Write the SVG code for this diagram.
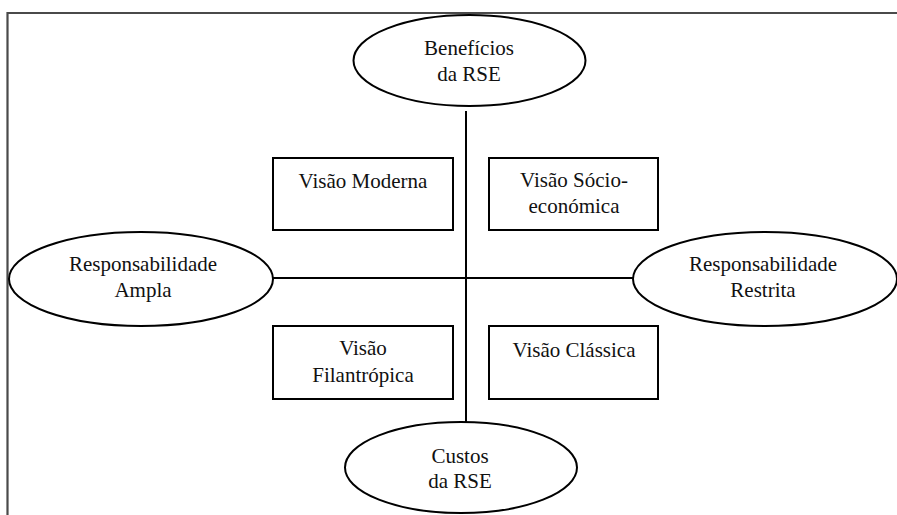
<svg xmlns="http://www.w3.org/2000/svg" width="897" height="515" viewBox="0 0 897 515">
  <style>
    .frame { fill: none; stroke: #4a4a4a; stroke-width: 2.2; }
    .node { fill: #ffffff; stroke: #000000; stroke-width: 2; }
    .axis { fill: none; stroke: #000000; stroke-width: 2; }
    .lbl { font-family: 'Liberation Serif', 'Times New Roman', 'DejaVu Serif', serif; font-size: 21px; fill: #111111; text-anchor: middle; }
  </style>
  <rect width="897" height="515" fill="#ffffff"/>
  <!-- outer frame, open to the right and bottom -->
  <path class="frame" d="M7.5,520 V13 H900"/>

  <g id="connectors">
    <line class="axis" x1="466" y1="111" x2="466" y2="422"/>
    <line class="axis" x1="273" y1="278" x2="634" y2="278"/>
  </g>

  <g id="beneficios">
    <ellipse class="node" cx="469.5" cy="60.5" rx="116" ry="45.5"/>
    <text class="lbl" x="469" y="55">Benefícios</text>
    <text class="lbl" x="469" y="81">da RSE</text>
  </g>

  <g id="custos">
    <ellipse class="node" cx="461" cy="467.5" rx="116" ry="45.5"/>
    <text class="lbl" x="460" y="463">Custos</text>
    <text class="lbl" x="460" y="488">da RSE</text>
  </g>

  <g id="ampla">
    <ellipse class="node" cx="141" cy="279" rx="132" ry="47"/>
    <text class="lbl" x="143" y="271">Responsabilidade</text>
    <text class="lbl" x="143" y="297">Ampla</text>
  </g>

  <g id="restrita">
    <ellipse class="node" cx="765" cy="279" rx="132" ry="47"/>
    <text class="lbl" x="763" y="271">Responsabilidade</text>
    <text class="lbl" x="763" y="297">Restrita</text>
  </g>

  <g id="moderna">
    <rect class="node" x="273" y="158" width="180" height="72"/>
    <text class="lbl" x="363" y="188">Visão Moderna</text>
  </g>

  <g id="socioeconomica">
    <rect class="node" x="489" y="158" width="169" height="72"/>
    <text class="lbl" x="574" y="187">Visão Sócio-</text>
    <text class="lbl" x="574" y="213">económica</text>
  </g>

  <g id="filantropica">
    <rect class="node" x="273" y="326" width="180" height="73"/>
    <text class="lbl" x="363" y="355">Visão</text>
    <text class="lbl" x="363" y="382">Filantrópica</text>
  </g>

  <g id="classica">
    <rect class="node" x="489" y="326" width="169" height="73"/>
    <text class="lbl" x="574" y="357">Visão Clássica</text>
  </g>
</svg>
